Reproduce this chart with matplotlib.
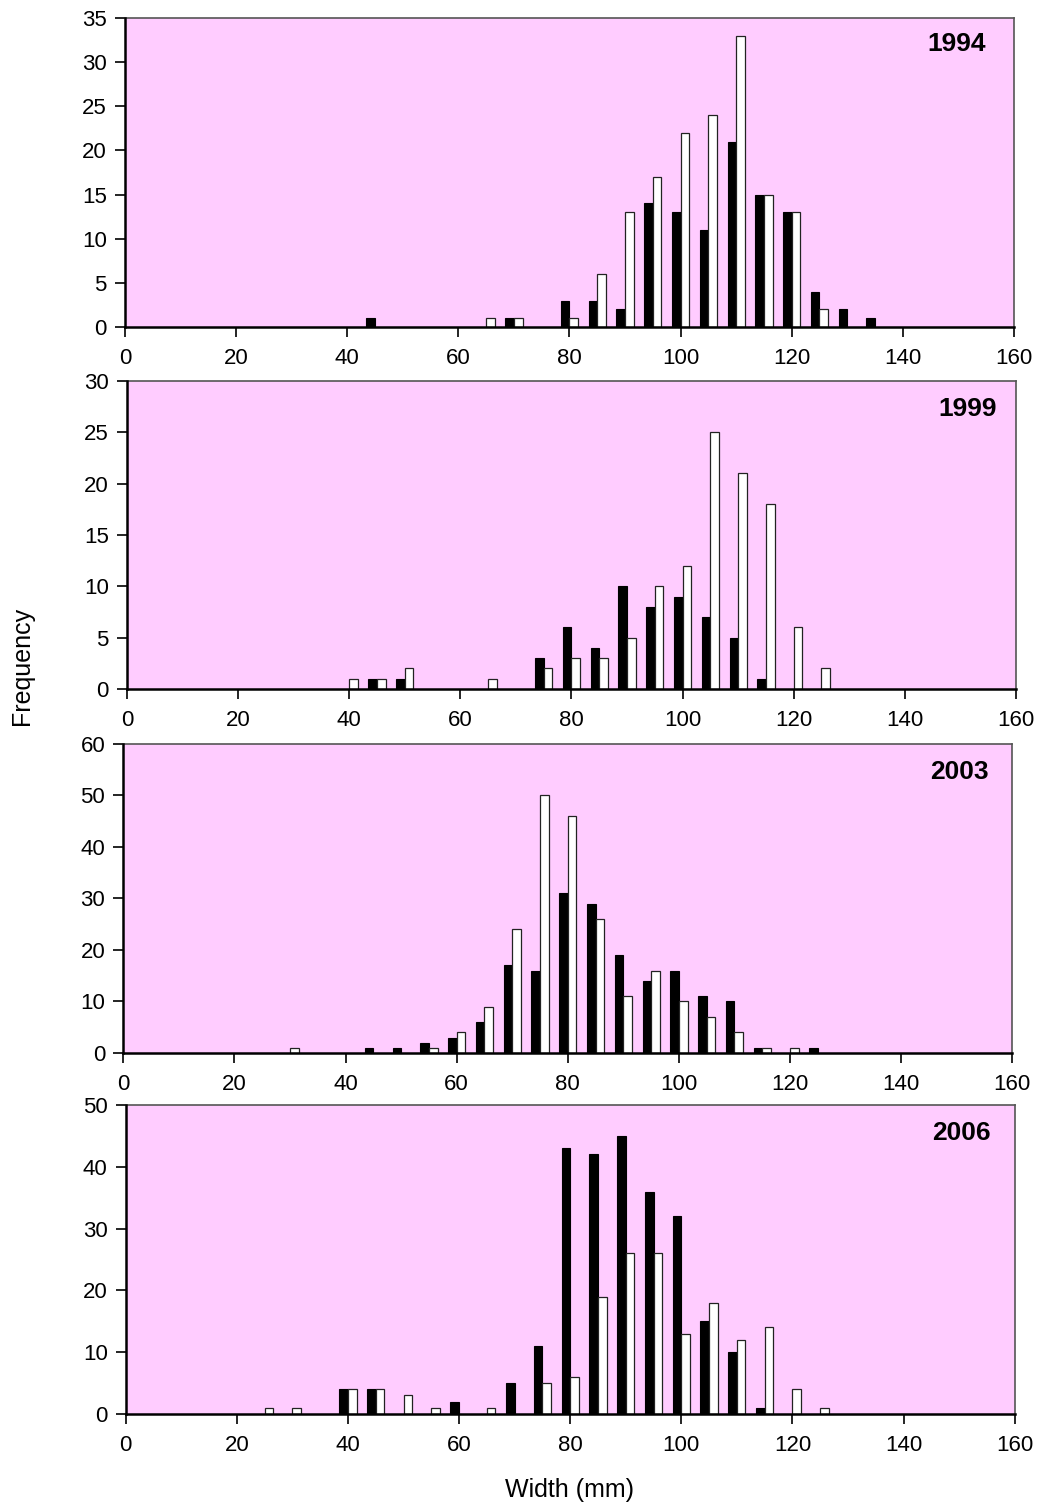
import numpy as np
import matplotlib
matplotlib.use("Agg")
import matplotlib.pyplot as plt

plt.rcParams['font.family'] = ['Liberation Sans', 'DejaVu Sans']

# size-class centres (mm) and frequencies per survey year
bins = np.arange(25, 140, 5)

years = ["1994", "1999", "2003", "2006"]

black_1994 = {45: 1, 70: 1, 80: 3, 85: 3, 90: 2, 95: 14, 100: 13, 105: 11, 110: 21,
              115: 15, 120: 13, 125: 4, 130: 2, 135: 1}
white_1994 = {65: 1, 70: 1, 80: 1, 85: 6, 90: 13, 95: 17, 100: 22, 105: 24, 110: 33,
              115: 15, 120: 13, 125: 2}

black_1999 = {45: 1, 50: 1, 75: 3, 80: 6, 85: 4, 90: 10, 95: 8, 100: 9, 105: 7,
              110: 5, 115: 1}
white_1999 = {40: 1, 45: 1, 50: 2, 65: 1, 75: 2, 80: 3, 85: 3, 90: 5, 95: 10, 100: 12,
              105: 25, 110: 21, 115: 18, 120: 6, 125: 2}

black_2003 = {45: 1, 50: 1, 55: 2, 60: 3, 65: 6, 70: 17, 75: 16, 80: 31, 85: 29,
              90: 19, 95: 14, 100: 16, 105: 11, 110: 10, 115: 1, 125: 1}
white_2003 = {30: 1, 55: 1, 60: 4, 65: 9, 70: 24, 75: 50, 80: 46, 85: 26, 90: 11,
              95: 16, 100: 10, 105: 7, 110: 4, 115: 1, 120: 1}

black_2006 = {40: 4, 45: 4, 60: 2, 70: 5, 75: 11, 80: 43, 85: 42, 90: 45, 95: 36,
              100: 32, 105: 15, 110: 10, 115: 1}
white_2006 = {25: 1, 30: 1, 40: 4, 45: 4, 50: 3, 55: 1, 65: 1, 75: 5, 80: 6, 85: 19,
              90: 26, 95: 26, 100: 13, 105: 18, 110: 12, 115: 14, 120: 4, 125: 1}

black_series = [black_1994, black_1999, black_2003, black_2006]
white_series = [white_1994, white_1999, white_2003, white_2006]
y_max = [35, 30, 60, 50]
y_step = [5, 5, 10, 10]

# axes boxes in figure fractions: left, bottom, width, height
boxes = [
    (0.1203, 0.7824, 0.8556, 0.2056),
    (0.1222, 0.5416, 0.8556, 0.2049),
    (0.1187, 0.2994, 0.8556, 0.2056),
    (0.1210, 0.0592, 0.8556, 0.2056),
]
label_pos = [(0.968, 0.915), (0.978, 0.91), (0.973, 0.91), (0.973, 0.91)]

fig = plt.figure(figsize=(10.39, 15.03), dpi=100)
width = 1.55

for i, year in enumerate(years):
    ax = fig.add_axes(boxes[i])
    ax.set_facecolor('#FFCCFF')
    b = np.array([black_series[i].get(c, 0) for c in bins])
    w = np.array([white_series[i].get(c, 0) for c in bins])
    # empty classes are left out so no outline is drawn on the baseline
    ax.bar(bins[b > 0] - width / 2, b[b > 0], width=width, color='black',
           edgecolor='black', linewidth=0.8, zorder=3)
    ax.bar(bins[w > 0] + width / 2, w[w > 0], width=width, color='white',
           edgecolor='#222222', linewidth=0.9, zorder=3)
    ax.set_xlim(0, 160)
    ax.set_ylim(0, y_max[i])
    ax.set_xticks(np.arange(0, 161, 20))
    ax.set_yticks(np.arange(0, y_max[i] + 1, y_step[i]))
    ax.tick_params(direction='out', length=7, width=1.2, labelsize=16, pad=6,
                   colors='black')
    ax.tick_params(axis='x', pad=8)
    for side in ('left', 'bottom'):
        ax.spines[side].set_linewidth(1.8)
        ax.spines[side].set_color('black')
        ax.spines[side].set_zorder(4)
    for side in ('top', 'right'):
        ax.spines[side].set_linewidth(1.2)
        ax.spines[side].set_color('#555555')
    ax.text(label_pos[i][0], label_pos[i][1], year, transform=ax.transAxes,
            ha='right', va='center', fontsize=19, fontweight='bold')

fig.text(0.021, 0.557, "Frequency", rotation=90, ha='center', va='center', fontsize=18)
fig.text(0.548, 0.0085, "Width (mm)", ha='center', va='center', fontsize=18)

fig.savefig("out.png", dpi=100, facecolor='white')
